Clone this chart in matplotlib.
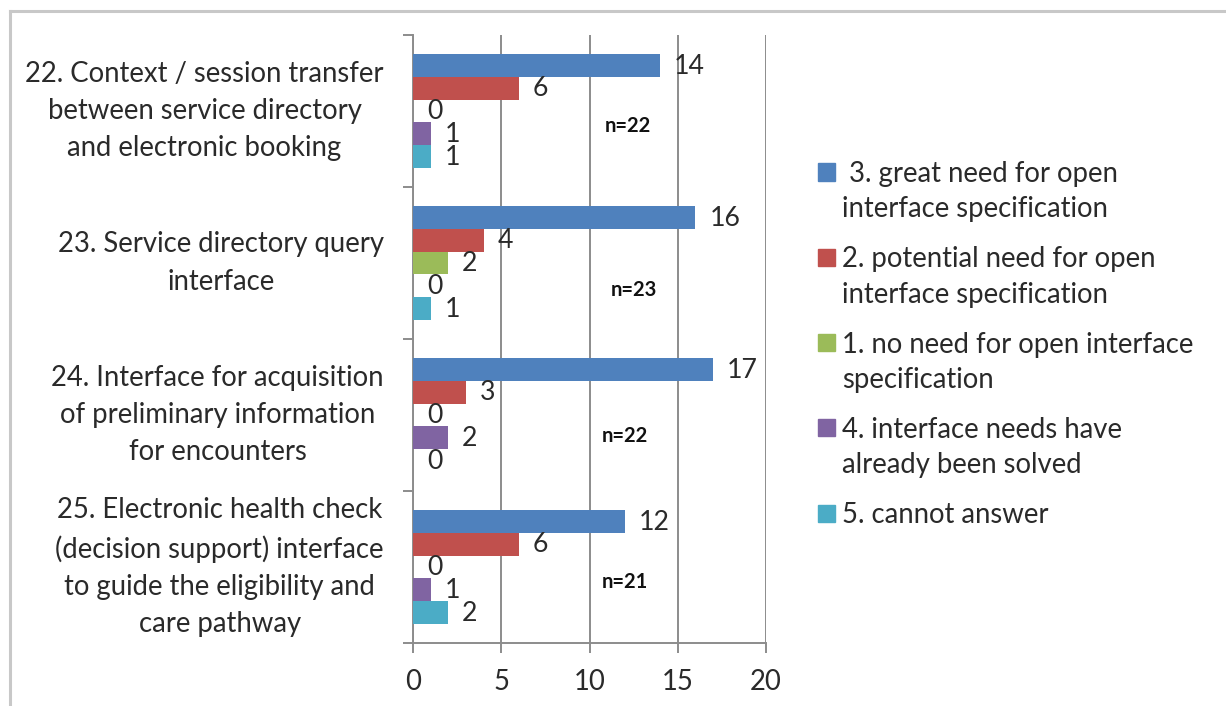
import matplotlib
matplotlib.use("Agg")
import matplotlib.pyplot as plt
from matplotlib.patches import Rectangle
from matplotlib.lines import Line2D
import numpy as np

plt.rcParams['font.family'] = ['Lato', 'DejaVu Sans']

categories = [
    "22. Context / session transfer\nbetween service directory\nand electronic booking",
    "23. Service directory query\ninterface",
    "24. Interface for acquisition\nof preliminary information\nfor encounters",
    "25. Electronic health check\n(decision support) interface\nto guide the eligibility and\ncare pathway",
]
series_names = [
    " 3. great need for open\ninterface specification",
    "2. potential need for open\ninterface specification",
    "1. no need for open interface\nspecification",
    "4. interface needs have\nalready been solved",
    "5. cannot answer",
]
values = [
    [14, 16, 17, 12],   # 3. great need
    [6, 4, 3, 6],       # 2. potential need
    [0, 2, 0, 0],       # 1. no need
    [1, 0, 2, 1],       # 4. already solved
    [1, 1, 0, 2],       # 5. cannot answer
]
n_labels = ["n=22", "n=23", "n=22", "n=21"]
colors = ["#4F81BD", "#C0504D", "#9BBB59", "#8064A2", "#4BACC6"]
x_ticks = [0, 5, 10, 15, 20]

TEXT = "#2A2A2A"
GRID = "#8C8C8C"
FS = 19.8

W, H = 1226, 706
fig = plt.figure(figsize=(W / 100, H / 100), dpi=100)

# outer chart frame (top and left edges visible)
fig.add_artist(Line2D([10 / W, 10 / W], [0, 1 - 11 / H], transform=fig.transFigure,
                      color="#C8C8C8", lw=2.2))
fig.add_artist(Line2D([10 / W, 1], [1 - 11 / H, 1 - 11 / H], transform=fig.transFigure,
                      color="#C8C8C8", lw=2.2))

ax_l, ax_r, ax_t, ax_b = 413, 766, 35, 643
ax = fig.add_axes([ax_l / W, 1 - ax_b / H, (ax_r - ax_l) / W, (ax_b - ax_t) / H])

n_series = len(values)
bar_h = 0.15
ypos = np.arange(len(categories))
for k in range(n_series):
    offs = (k - (n_series - 1) / 2) * bar_h
    ax.barh(ypos + offs, values[k], height=bar_h, color=colors[k], zorder=3)
    for i, v in enumerate(values[k]):
        ax.annotate(str(v), (v, ypos[i] + offs), xytext=(10, -0.5), textcoords="offset points",
                    ha="left", va="center", fontsize=19.2, color=TEXT, zorder=4)

# sample-size notes
n_pos = [(12.2, 0.10), (12.5, 0.18), (12.0, 0.14), (12.0, 0.10)]
for i, lab in enumerate(n_labels):
    dx, dy = n_pos[i]
    ax.text(dx, ypos[i] + dy, lab, ha="center", va="center", fontsize=14.5,
            fontweight="bold", color="#111111", zorder=4)

ax.set_xlim(0, 20)
ax.set_ylim(len(categories) - 0.5, -0.5)
ax.set_xticks(x_ticks)
ax.set_xticklabels([str(t) for t in x_ticks], fontsize=FS, color=TEXT)
ax.xaxis.grid(True, color=GRID, lw=1.4, zorder=0)
ax.set_axisbelow(True)

ax.set_yticks(ypos)
ax.set_yticklabels(categories, fontsize=FS, color=TEXT)
for lbl in ax.get_yticklabels():
    lbl.set_multialignment("center")
    lbl.set_verticalalignment("center")
    lbl.set_linespacing(1.54)
ax.tick_params(axis="y", which="major", length=0, pad=21)
ax.set_yticks(np.arange(len(categories) + 1) - 0.5, minor=True)
ax.tick_params(axis="y", which="minor", length=7, width=1.4, color=GRID, direction="out")
ax.tick_params(axis="x", length=7, width=1.4, color=GRID, direction="out", pad=12)

for s in ["top", "right"]:
    ax.spines[s].set_visible(False)
for s in ["left", "bottom"]:
    ax.spines[s].set_color(GRID)
    ax.spines[s].set_linewidth(1.4)

# legend drawn as swatches with wrapped labels
leg_y0, leg_dy = 172, 85.3
for k, name in enumerate(series_names):
    yc = leg_y0 + k * leg_dy
    fig.add_artist(Rectangle((818 / W, 1 - (yc + 8.5) / H), 17 / W, 17 / H,
                             transform=fig.transFigure, color=colors[k]))
    fig.text(842 / W, 1 - (yc - 11) / H, name, ha="left", va="top", fontsize=FS,
             color=TEXT, linespacing=1.45)

fig.savefig("out.png", dpi=100)
